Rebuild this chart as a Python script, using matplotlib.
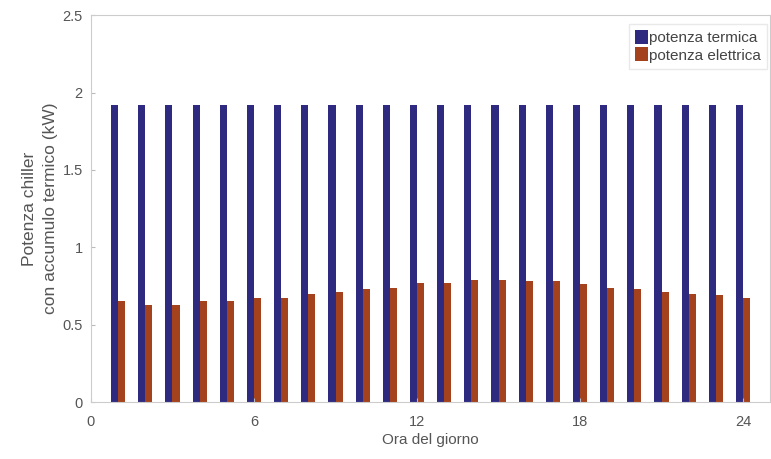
import numpy as np
import matplotlib
matplotlib.use("Agg")
import matplotlib.pyplot as plt

plt.rcParams['font.family'] = ['Liberation Sans', 'DejaVu Sans']

# data
ore = np.arange(1, 25)
potenza_termica = [1.92] * 24
potenza_elettrica = [0.65, 0.63, 0.63, 0.65, 0.65, 0.67, 0.67, 0.70, 0.71, 0.73, 0.74, 0.77,
                     0.77, 0.79, 0.79, 0.78, 0.78, 0.76, 0.74, 0.73, 0.71, 0.70, 0.69, 0.67]
x_ticks = [0, 6, 12, 18, 24]
y_ticks = [0, 0.5, 1, 1.5, 2, 2.5]

blu = '#2e2a80'
rosso = '#a3421c'
grigio = '#555555'

fig = plt.figure(figsize=(7.71, 4.59), dpi=100)
ax = fig.add_axes([0.118, 0.124, 0.881, 0.843])

w = 0.26
ax.bar(ore - w / 2, potenza_termica, width=w, color=blu, label='potenza termica')
ax.bar(ore + w / 2, potenza_elettrica, width=w, color=rosso, label='potenza elettrica')

ax.set_xlim(0, 25)
ax.set_ylim(0, 2.5)
ax.set_xticks(x_ticks)
ax.set_yticks(y_ticks)
ax.set_yticklabels(['0', '0.5', '1', '1.5', '2', '2.5'])
ax.tick_params(direction='in', length=3, colors='#bbbbbb', labelcolor=grigio, labelsize=10.5)
ax.tick_params(axis='x', pad=9)
ax.tick_params(axis='y', pad=6)
for s in ax.spines.values():
    s.set_color('#cccccc')

ax.set_xlabel('Ora del giorno', fontsize=11, color=grigio, labelpad=3)
ax.set_ylabel('Potenza chiller\ncon accumulo termico (kW)', fontsize=12.5, color=grigio,
              labelpad=3, linespacing=1.5)

leg = ax.legend(loc='upper right', fontsize=11, handlelength=0.8, handleheight=1.0,
                handletextpad=0.1, borderpad=0.4, labelspacing=0.15, fancybox=False,
                borderaxespad=0.2, bbox_to_anchor=(1.0, 0.985))
leg.get_frame().set_edgecolor('#e4e4e4')
for t in leg.get_texts():
    t.set_color('#444444')

fig.savefig('out.png', dpi=100)
